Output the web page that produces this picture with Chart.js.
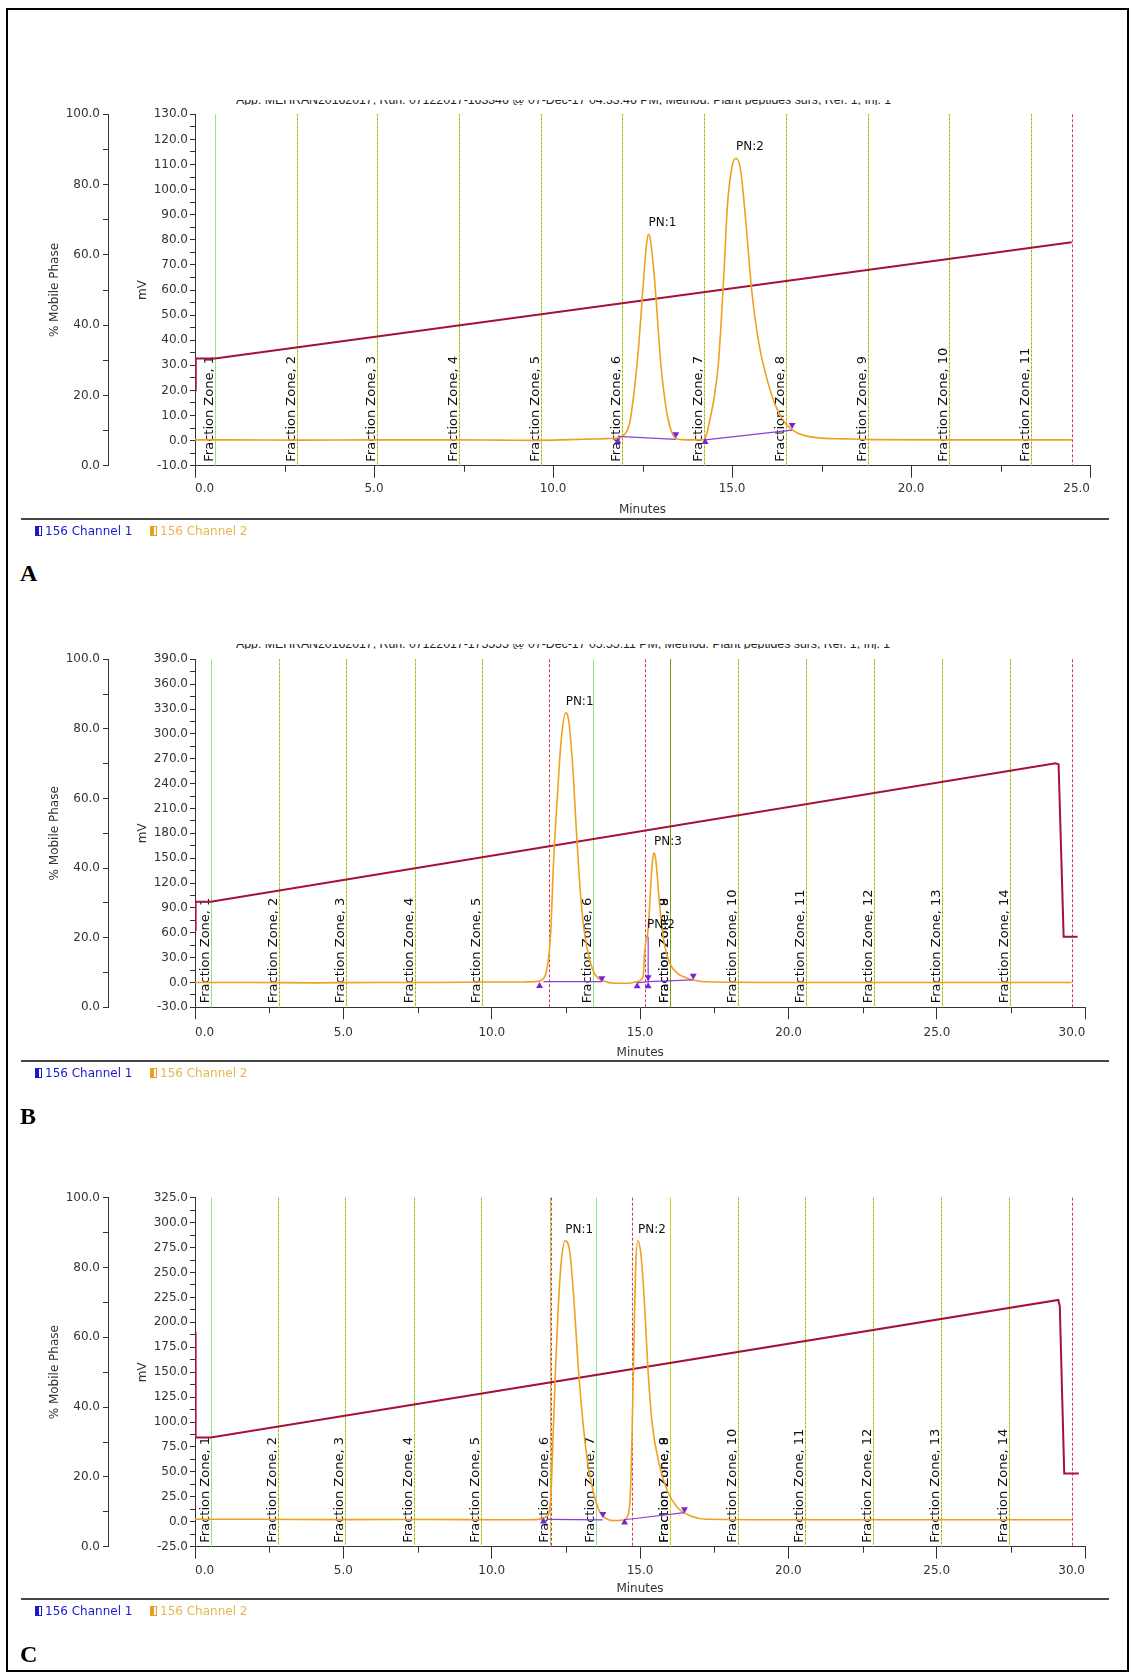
<!DOCTYPE html>
<html><head><meta charset="utf-8">
<script src="https://cdn.jsdelivr.net/npm/chart.js@4.4.1/dist/chart.umd.min.js"></script>
<style>
html,body{margin:0;padding:0;background:#fff;}
#page{position:relative;width:1131px;height:1673px;overflow:hidden;font-family:'DejaVu Sans',sans-serif;background:#fff;}
.frame{position:absolute;left:6px;top:8px;width:1123px;height:1664px;border:2px solid #000;box-sizing:border-box;}
canvas{position:absolute;left:0;}
.sep{position:absolute;left:21px;width:1088px;height:0;border-top:2px solid #444;}
.leg{position:absolute;font-size:12px;white-space:nowrap;line-height:14px;height:14px;}
.ico{position:absolute;top:2px;width:7px;height:10px;box-sizing:border-box;}
.lt{position:absolute;top:0;}
.letter{position:absolute;left:20px;font-family:'Liberation Serif',serif;font-weight:bold;font-size:24px;line-height:24px;}
.hdr{position:absolute;height:5px;overflow:hidden;font-family:'Liberation Sans',sans-serif;font-size:12.3px;white-space:nowrap;color:#222;}
.hdr span{position:relative;top:-6.8px;line-height:14px;display:block;}
</style></head>
<body><div id="page">
<div class="frame"></div>
<div class="hdr" style="left:236px;top:100px;width:800px;"><span>App: MEHRAN20162017, Run: 07122017-163346 @ 07-Dec-17 04:33:46 PM, Method: Plant peptides surs, Ref: 1, Inj: 1</span></div>
<div class="hdr" style="left:236px;top:644px;width:800px;"><span>App: MEHRAN20162017, Run: 07122017-175555 @ 07-Dec-17 05:55:11 PM, Method: Plant peptides surs, Ref: 1, Inj: 1</span></div>
<canvas id="cA" width="1131" height="440" style="top:90px"></canvas>
<canvas id="cB" width="1131" height="440" style="top:630px"></canvas>
<canvas id="cC" width="1131" height="440" style="top:1170px"></canvas>
<div class="sep" style="top:518px"></div>
<div class="sep" style="top:1060px"></div>
<div class="sep" style="top:1598px"></div>
<div class="leg" style="left:0;top:524px;width:300px"><span class="ico" style="left:35px;border:1px solid #1a1ac8;background:linear-gradient(90deg,#1a1ac8 50%,#fff 50%)"></span><span class="lt" style="left:45px;color:#1a1ac8">156 Channel 1</span><span class="ico" style="left:150px;border:1px solid #e8a020;background:linear-gradient(90deg,#e8a020 50%,#fff 50%)"></span><span class="lt" style="left:160px;color:#e6b74a">156 Channel 2</span></div>
<div class="leg" style="left:0;top:1066px;width:300px"><span class="ico" style="left:35px;border:1px solid #1a1ac8;background:linear-gradient(90deg,#1a1ac8 50%,#fff 50%)"></span><span class="lt" style="left:45px;color:#1a1ac8">156 Channel 1</span><span class="ico" style="left:150px;border:1px solid #e8a020;background:linear-gradient(90deg,#e8a020 50%,#fff 50%)"></span><span class="lt" style="left:160px;color:#e6b74a">156 Channel 2</span></div>
<div class="leg" style="left:0;top:1604px;width:300px"><span class="ico" style="left:35px;border:1px solid #1a1ac8;background:linear-gradient(90deg,#1a1ac8 50%,#fff 50%)"></span><span class="lt" style="left:45px;color:#1a1ac8">156 Channel 1</span><span class="ico" style="left:150px;border:1px solid #e8a020;background:linear-gradient(90deg,#e8a020 50%,#fff 50%)"></span><span class="lt" style="left:160px;color:#e6b74a">156 Channel 2</span></div>
<div class="letter" style="top:561px">A</div>
<div class="letter" style="top:1104px">B</div>
<div class="letter" style="top:1642px">C</div>
</div>
<script>
// ---------------- Panel A data ----------------
const aTime   = [0,1,3,5,7,8.5,9.5,10.5,11,11.5,11.8,11.93,12.14,12.27,12.4,12.55,12.62,12.67,12.72,12.8,12.86,13.01,13.1,13.2,13.3,13.43,13.6,13.84,14.2,14.28,14.36,14.5,14.62,14.77,14.87,15.0,15.11,15.24,15.39,15.55,15.75,16.01,16.27,16.53,16.84,17.35,18.18,19,21,23,24.49];
const aSignal = [0.3,0.3,0.2,0.3,0.3,0.2,0.1,0.4,0.6,0.8,1.0,1.6,6.9,20,38.8,68,79,82.3,80,70,60,30.8,19,9.5,4,0.9,0.4,0.3,0.3,2,6.9,17,30.8,65.3,93.2,109.1,112.5,107.8,86.6,60,38.8,22.8,12.2,6.2,2.9,1.2,0.7,0.4,0.3,0.3,0.3];
const aGradTime = [0,0.02,0.56,24.49];
const aGradPct  = [21.5,30.5,30.5,63.6];
const aZoneTimes = [0.56,2.84,5.09,7.38,9.66,11.94,14.22,16.5,18.79,21.07,23.35];
const aZoneNums  = [1,2,3,4,5,6,7,8,9,10,11];
const aZoneKinds = ['light','zone','zone','zone','zone','zone','zone','zone','zone','zone','zone'];
const aEventTimes = [24.49];
const aPeakTimes = [12.67,15.11];
const aPeakHeights = [82.3,112.5];
const aPeakNames = ['PN:1','PN:2'];
const aBaseSegs = [[[11.81,13.43],[1.7,0.5]],[[14.25,16.68],[0.3,4.2]]];
const aUpTime = [11.81,14.25], aUpVal = [-0.4,-0.6];
const aDownTime = [13.43,16.68], aDownVal = [2.5,6.2];
const aXTicksMinor = [2.5,7.5,12.5,17.5,22.5];

// ---------------- Panel B data ----------------
const bTime   = [0,2,4,6,8,10,11,11.5,11.69,11.89,11.99,12.08,12.21,12.34,12.49,12.59,12.72,12.85,12.98,13.11,13.3,13.49,13.75,14.14,14.6,14.91,15.1,15.15,15.2,15.25,15.3,15.36,15.42,15.47,15.52,15.56,15.66,15.81,16.0,16.26,16.58,16.97,17.5,20,25,29.54];
const bSignal = [0,0,-0.5,0,0,0.5,0.5,1,3,23,63.3,143.8,224.2,292.6,325.6,316.7,264.5,184,111.6,63.3,27.1,9,2.1,-1,-1,1,7,35,52,58,80,119.7,148,156.6,150,135.7,91.4,47.2,23,11,5,1.8,0.5,0,0,0];
const bGradTime = [0,0.02,0.53,29.0,29.1,29.27,29.74];
const bGradPct  = [22.2,30.3,30.3,70.1,69.8,20.3,20.3];
const bZoneTimes = [0.53,2.83,5.08,7.41,9.66,13.40,16.0,16.0,18.30,20.59,22.89,25.16,27.47];
const bZoneNums  = [1,2,3,4,5,6,8,9,10,11,12,13,14];
const bZoneKinds = ['light','zone','zone','zone','zone','light','solid','solid','zone','zone','zone','zone','zone'];
const bEventTimes = [11.93,15.16,29.54];
const bPeakTimes = [12.49,15.23,15.47];
const bPeakHeights = [325.6,56,156.6];
const bPeakNames = ['PN:1','PN:2','PN:3'];
const bBaseSegs = [[[11.74,13.71],[1,1]],[[14.9,15.27],[-0.5,1]],[[15.27,16.78],[1,3]],[[15.27,15.27],[55,0]]];
const bUpTime = [11.61,14.9,15.27], bUpVal = [-4.3,-4.6,-4.6];
const bDownTime = [13.71,15.27,16.79], bDownVal = [5,6.2,8];
const bXTicksMinor = [2.5,7.5,12.5,17.5,22.5,27.5];

// ---------------- Panel C data ----------------
const cTime   = [0,2,5,8,10,11,11.5,11.84,11.98,12.07,12.15,12.24,12.34,12.48,12.64,12.78,12.91,13.07,13.24,13.44,13.64,13.84,14.11,14.44,14.57,14.67,14.73,14.8,14.85,14.93,15.04,15.15,15.27,15.41,15.64,15.91,16.24,16.71,17.24,20,25,29.56];
const cSignal = [2.5,2.5,2.2,2.3,2.0,2.0,2.2,5.1,18.5,85.3,152.2,212.4,259.2,281.9,269.2,219.1,158.9,102,58.6,28.5,10.1,3.4,1.1,1.8,5.1,25.1,85.3,185.6,252.5,281.9,265.8,219.1,152.2,98.7,58.6,31.9,15.1,5.8,2.5,2.0,2.0,2.0];
const cGradTime = [0,0.02,0.53,29.1,29.15,29.3,29.79];
const cGradPct  = [61.6,31.3,31.3,70.7,69,21.0,21.0];
const cZoneTimes = [0.53,2.81,5.05,7.38,9.63,11.95,13.51,16.0,16.0,18.30,20.57,22.86,25.13,27.43];
const cZoneNums  = [1,2,3,4,5,6,7,8,9,10,11,12,13,14];
const cZoneKinds = ['light','zone','zone','zone','zone','zone','light','yellow','yellow','zone','zone','zone','zone','zone'];
const cEventTimes = [12.0,14.72,29.56];
const cPeakTimes = [12.48,14.93];
const cPeakHeights = [281.9,281.9];
const cPeakNames = ['PN:1','PN:2'];
const cBaseSegs = [[[11.84,13.75],[2.5,2.0]],[[14.48,16.5],[2.0,9.1]]];
const cUpTime = [11.75,14.48], cUpVal = [0.3,-0.7];
const cDownTime = [13.75,16.5], cDownVal = [7.8,12.5];
const cXTicksMinor = [2.5,7.5,12.5,17.5,22.5,27.5];

// ---------------- rendering ----------------
Chart.defaults.font.family = "'DejaVu Sans', sans-serif";
Chart.defaults.font.size = 12;
Chart.defaults.color = '#333';

function pts(xs, ys){ return xs.map((x,i)=>({x:x, y:ys[i]})); }

const zoneStyle = {
  light: {color:'#8fe58f', dash:[], width:1},
  zone:  {color:'#a3ad14', dash:[2,2], width:1, under:'#e2e27a'},
  solid: {color:'#7f9a10', dash:[], width:1},
  yellow:{color:'#d4d418', dash:[], width:1}
};

function makeOverlay(p){
  return {
    id: 'overlay' + p.id,
    beforeDatasetsDraw(chart){
      const ctx = chart.ctx, xs = chart.scales.x, ca = chart.chartArea;
      ctx.save();
      ctx.strokeStyle = '#333'; ctx.lineWidth = 1;
      p.minor.forEach(v => {
        const px = Math.round(xs.getPixelForValue(v)) + 0.5;
        ctx.beginPath(); ctx.moveTo(px, ca.bottom); ctx.lineTo(px, ca.bottom + 6); ctx.stroke();
      });
      p.zoneTimes.forEach((t,i) => {
        const st = zoneStyle[p.zoneKinds[i]];
        const px = Math.round(xs.getPixelForValue(t)) + 0.5;
        if (st.under){ ctx.setLineDash([]); ctx.strokeStyle = st.under; ctx.lineWidth = 1;
          ctx.beginPath(); ctx.moveTo(px, ca.top); ctx.lineTo(px, ca.bottom); ctx.stroke(); }
        ctx.setLineDash(st.dash); ctx.strokeStyle = st.color; ctx.lineWidth = st.width;
        ctx.beginPath(); ctx.moveTo(px, ca.top); ctx.lineTo(px, ca.bottom); ctx.stroke();
      });
      p.events.forEach(t => {
        const px = Math.round(xs.getPixelForValue(t)) + 0.5;
        ctx.setLineDash([3,2]); ctx.strokeStyle = '#d2365a'; ctx.lineWidth = 1;
        ctx.beginPath(); ctx.moveTo(px, ca.top); ctx.lineTo(px, ca.bottom); ctx.stroke();
      });
      ctx.setLineDash([]);
      ctx.fillStyle = '#111'; ctx.font = "13px 'DejaVu Sans', sans-serif";
      ctx.textAlign = 'left'; ctx.textBaseline = 'alphabetic';
      p.zoneTimes.forEach((t,i) => {
        const px = xs.getPixelForValue(t);
        ctx.save(); ctx.translate(px - 2, ca.bottom - 4); ctx.rotate(-Math.PI/2);
        ctx.fillText('Fraction Zone, ' + p.zoneNums[i], 0, 0); ctx.restore();
      });
      ctx.restore();
    },
    afterDatasetsDraw(chart){
      const ctx = chart.ctx, xs = chart.scales.x, ys = chart.scales.mv;
      ctx.save();
      ctx.fillStyle = '#111'; ctx.font = "12px 'DejaVu Sans', sans-serif";
      ctx.textAlign = 'left'; ctx.textBaseline = 'alphabetic';
      p.peakTimes.forEach((t,i) => {
        ctx.fillText(p.peakNames[i], xs.getPixelForValue(t), ys.getPixelForValue(p.peakHeights[i]) - 8);
      });
      ctx.restore();
    }
  };
}

function build(p){
  const datasets = [];
  datasets.push({data: pts(p.upT, p.upV), showLine:false, pointStyle:'triangle', pointRadius:4, pointBackgroundColor:'#7a22d8', pointBorderWidth:0, yAxisID:'mv'});
  datasets.push({data: pts(p.downT, p.downV), showLine:false, pointStyle:'triangle', rotation:180, pointRadius:4, pointBackgroundColor:'#7a22d8', pointBorderWidth:0, yAxisID:'mv'});
  p.segs.forEach(s => datasets.push({data: pts(s[0], s[1]), borderColor:'#8c3fd4', borderWidth:1.2, pointRadius:0, yAxisID:'mv'}));
  datasets.push({label:'156 Channel 2', data: pts(p.time, p.signal), borderColor:'#efa11e', borderWidth:1.6, pointRadius:0, cubicInterpolationMode:'monotone', yAxisID:'mv'});
  datasets.push({label:'% Mobile Phase', data: pts(p.gradT, p.gradP), borderColor:'#a2123a', borderWidth:2, pointRadius:0, tension:0, yAxisID:'pct'});

  const isLabel = (v, step) => { const r = ((v % step) + step) % step; return r < 1e-6 || Math.abs(r - step) < 1e-6; };

  new Chart(document.getElementById(p.canvas), {
    type: 'line',
    data: {datasets},
    options: {
      responsive:false, animation:false, devicePixelRatio:1,
      layout: {padding: p.pad},
      plugins: {legend:{display:false}, tooltip:{enabled:false}},
      scales: {
        x: {type:'linear', position:'bottom', min:0, max:p.xMax,
            border:{display:true, color:'#333', width:1},
            grid:{drawOnChartArea:false, tickLength:12, color:'#333'},
            ticks:{stepSize:5, align:'inner', maxRotation:0, autoSkip:false, padding:p.xTickPad, color:'#333',
                   callback:(v)=>Number(v).toFixed(1)},
            title:{display:true, text:'Minutes', color:'#333', padding:{top:0,bottom:0}},
            afterFit:(s)=>{ s.height = p.xH; }},
        pct: {type:'linear', position:'left', weight:10, min:0, max:100,
            border:{display:true, color:'#333', width:1},
            grid:{drawOnChartArea:false, tickLength:5, color:'#333'},
            ticks:{stepSize:10, autoSkip:false, padding:3, color:'#333',
                   callback:(v)=> (isLabel(v,20) ? Number(v).toFixed(1) : '')},
            title:{display:true, text:'% Mobile Phase', color:'#333', padding:{top:7.8,bottom:0}},
            afterFit:(s)=>{ s.width = 68; }},
        mv: {type:'linear', position:'left', weight:0, min:p.mvMin, max:p.mvMax,
            border:{display:true, color:'#333', width:1},
            grid:{drawOnChartArea:false, tickLength:5, color:'#333'},
            ticks:{stepSize:p.mvStep, autoSkip:false, padding:2, color:'#333',
                   callback:(v)=> (isLabel(v,p.mvLabel) ? Number(v).toFixed(1) : '')},
            title:{display:true, text:'mV', color:'#333', padding:{top:27.8,bottom:0}},
            afterFit:(s)=>{ s.width = 87; }}
      }
    },
    plugins: [makeOverlay(p)]
  });
}

build({id:'A', canvas:'cA', time:aTime, signal:aSignal, gradT:aGradTime, gradP:aGradPct,
  zoneTimes:aZoneTimes, zoneNums:aZoneNums, zoneKinds:aZoneKinds, events:aEventTimes,
  peakTimes:aPeakTimes, peakHeights:aPeakHeights, peakNames:aPeakNames, segs:aBaseSegs,
  upT:aUpTime, upV:aUpVal, downT:aDownTime, downV:aDownVal, minor:aXTicksMinor,
  xMax:25, mvMin:-10, mvMax:130, mvStep:5, mvLabel:10, xH:51.5, xTickPad:4,
  pad:{top:24.3, left:40, right:41, bottom:12.8}});

build({id:'B', canvas:'cB', time:bTime, signal:bSignal, gradT:bGradTime, gradP:bGradPct,
  zoneTimes:bZoneTimes, zoneNums:bZoneNums, zoneKinds:bZoneKinds, events:bEventTimes,
  peakTimes:bPeakTimes, peakHeights:bPeakHeights, peakNames:bPeakNames, segs:bBaseSegs,
  upT:bUpTime, upV:bUpVal, downT:bDownTime, downV:bDownVal, minor:bXTicksMinor,
  xMax:30, mvMin:-30, mvMax:390, mvStep:15, mvLabel:30, xH:52.6, xTickPad:6,
  pad:{top:29.3, left:40, right:45.7, bottom:10.1}});

build({id:'C', canvas:'cC', time:cTime, signal:cSignal, gradT:cGradTime, gradP:cGradPct,
  zoneTimes:cZoneTimes, zoneNums:cZoneNums, zoneKinds:cZoneKinds, events:cEventTimes,
  peakTimes:cPeakTimes, peakHeights:cPeakHeights, peakNames:cPeakNames, segs:cBaseSegs,
  upT:cUpTime, upV:cUpVal, downT:cDownTime, downV:cDownVal, minor:cXTicksMinor,
  xMax:30, mvMin:-25, mvMax:325, mvStep:12.5, mvLabel:25, xH:49.7, xTickPad:5,
  pad:{top:27.7, left:40, right:46, bottom:13.6}});
</script>
</body></html>
